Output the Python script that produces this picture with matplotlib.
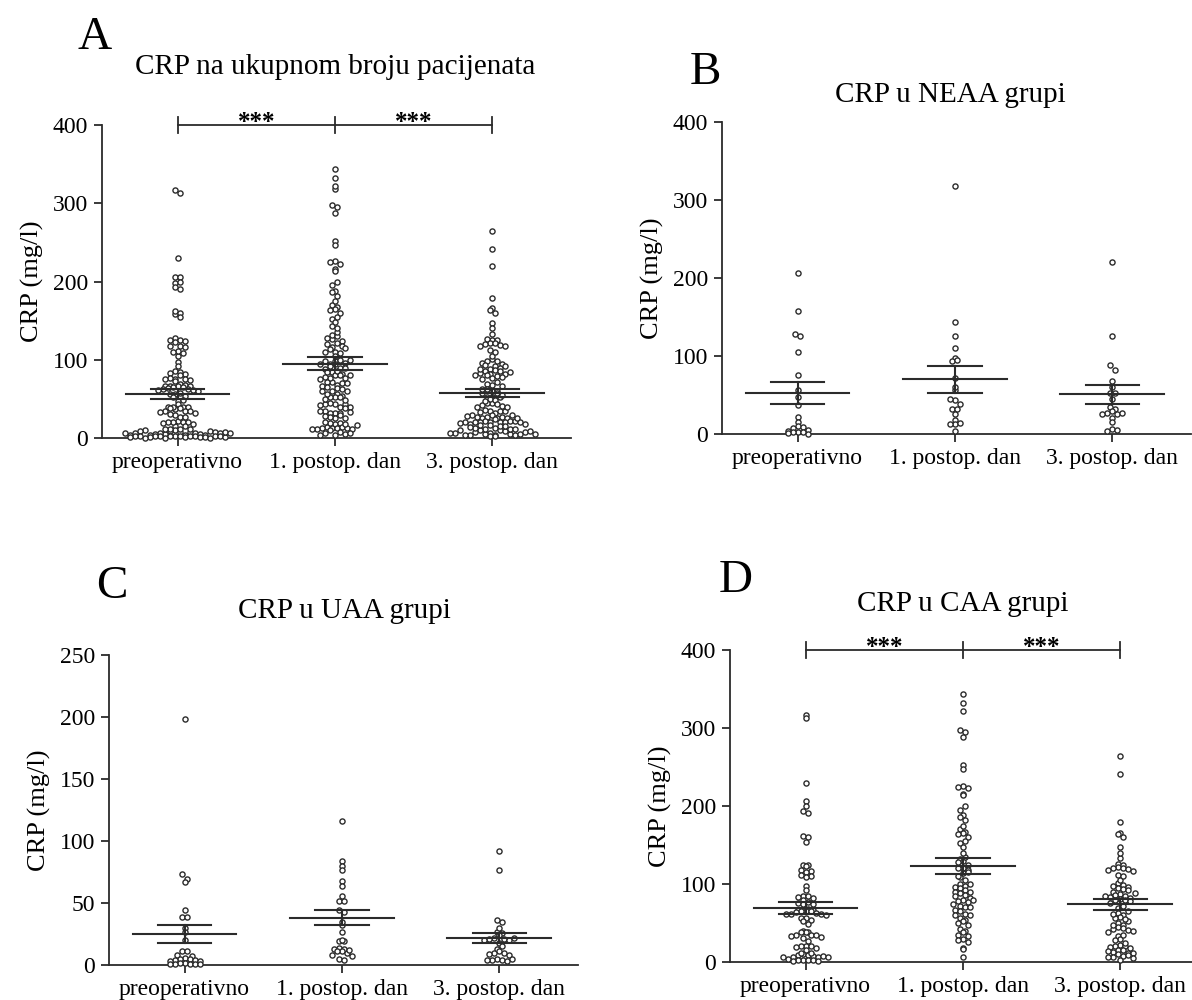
import numpy as np
import matplotlib
matplotlib.use("Agg")
import matplotlib.pyplot as plt

plt.rcParams['font.family'] = ['Liberation Serif', 'DejaVu Serif']

categories = ["preoperativno", "1. postop. dan", "3. postop. dan"]

# NEAA group (panel B)
neaa_pre = [206, 158, 128, 125, 105, 75, 56, 47, 37, 22, 15, 10, 8, 9, 4, 3, 2, 5, 3, 1, 0.5]
neaa_d1 = [318, 143, 126, 98, 94, 95, 72, 56, 44, 45, 39, 32, 32, 18, 13, 13, 14, 4,
           60, 25, 110]
neaa_d3 = [220, 125, 88, 82, 68, 53, 53, 35, 32, 30, 27, 26, 25, 27, 20, 16, 6, 4, 5,
           45, 60]

# UAA group (panel C)
uaa_pre = [198, 73, 69, 67, 44, 39, 39, 30, 27, 20, 11, 11, 8, 7, 6, 5, 5, 4, 4, 3, 3,
           2, 2, 1, 1, 1, 0.5, 0.5]
uaa_d1 = [116, 84, 80, 77, 68, 64, 56, 52, 52, 44, 43, 32, 27, 19, 19, 20, 14, 13, 13,
          11, 11, 10, 12, 8, 7, 5, 4, 35]
uaa_d3 = [92, 77, 36, 35, 27, 26, 24, 22, 21, 21, 20, 20, 22, 18, 13, 11, 10, 10, 9, 8,
          5, 4, 4, 3, 4, 5, 15, 30]

# CAA group (panel D)
caa_pre = [317, 313, 230, 206, 200, 193, 191, 162, 160, 154, 125, 124, 123, 118, 117,
           116, 111, 110, 109, 97, 92, 85, 84, 83, 82, 80, 77, 76, 75, 74, 68, 67, 67,
           66, 65, 65, 64, 63, 62, 61, 61, 60, 57, 56, 54, 52, 49, 40, 39, 38, 38, 35,
           35, 34, 33, 32, 31, 27, 21, 20, 20, 19, 18, 15, 10, 9, 9, 8, 7, 6, 4, 3, 3,
           2, 2, 1, 1, 12, 11, 8, 7, 6]
caa_d1 = [344, 332, 322, 298, 295, 288, 252, 247, 226, 225, 223, 216, 214, 195, 188,
          186, 182, 170, 167, 165, 164, 160, 152, 148, 132, 130, 128, 124, 121, 120,
          118, 114, 109, 100, 98, 96, 95, 92, 90, 88, 86, 84, 82, 80, 78, 77, 75, 72,
          70, 67, 65, 62, 60, 56, 54, 52, 50, 48, 42, 40, 38, 35, 33, 30, 28, 26, 18,
          17, 6, 60, 70, 80, 90, 100, 105, 110, 115, 135, 140, 155, 175, 200]
caa_d3 = [264, 241, 179, 166, 164, 160, 147, 133, 126, 125, 122, 121, 120, 119, 118,
          117, 112, 101, 99, 98, 96, 95, 93, 90, 87, 86, 85, 83, 82, 81, 80, 79, 76,
          69, 63, 60, 58, 57, 50, 48, 45, 43, 42, 41, 39, 33, 30, 28, 22, 21, 20, 19,
          18, 16, 15, 13, 12, 10, 8, 7, 3, 14, 11, 9, 6, 5, 25, 35, 40, 47, 52, 55,
          62, 66, 72, 78, 84, 88, 92, 105, 110, 140]

# all patients (panel A) = the three groups together
total_pre = neaa_pre + uaa_pre + caa_pre
total_d1 = neaa_d1 + uaa_d1 + caa_d1
total_d3 = neaa_d3 + uaa_d3 + caa_d3

# mean +/- SEM as shown
mean_total = [56, 95, 58]
sem_total = [6, 8, 5]
mean_neaa = [53, 70, 51]
sem_neaa = [14, 17, 12]
mean_uaa = [25, 38, 22]
sem_uaa = [7, 6, 4]
mean_caa = [69, 123, 74]
sem_caa = [8, 10, 7]

W, H = 1192, 1000
dark = '#2b2b2b'


def swarm(ax, xc, vals, h=5.5, s=5.0):
    # Prism-like scatter: points grouped into pixel rows, spread side by side
    vals = np.asarray(vals, float)
    disp = ax.transData.transform(np.column_stack([np.full(len(vals), xc), vals]))
    x0 = disp[0, 0]
    y0 = ax.transData.transform((xc, 0))[1]
    ys = disp[:, 1]
    rows = np.round((ys - y0) / h).astype(int)
    px = np.zeros(len(vals))
    for r in np.unique(rows):
        idx = np.where(rows == r)[0]
        n = len(idx)
        offs = (np.arange(n) - (n - 1) / 2) * s
        order = np.argsort(np.abs(offs), kind='stable')
        px[idx] = offs[order]
    inv = ax.transData.inverted()
    return inv.transform(np.column_stack([x0 + px, ys]))[:, 0]


def draw_panel(rect, groups, means, sems, ymax, yticks, stars):
    ax = fig.add_axes(rect)
    ax.set_xlim(-0.48, 2.5)
    ax.set_ylim(0, ymax)
    for s in ['top', 'right']:
        ax.spines[s].set_visible(False)
    for s in ['left', 'bottom']:
        ax.spines[s].set_linewidth(1.3)
        ax.spines[s].set_color(dark)
    ax.set_xticks([0, 1, 2])
    ax.set_xticklabels(categories)
    ax.set_yticks(yticks)
    ax.tick_params(direction='out', length=6, width=1.3, color=dark,
                   labelsize=17, pad=4)
    ax.set_ylabel("CRP (mg/l)", fontsize=19, labelpad=6)

    for i, vals in enumerate(groups):
        xs = swarm(ax, i, vals)
        ax.plot(xs, vals, 'o', ms=3.7, mfc='white', mec=dark, mew=1.0,
                clip_on=False, zorder=3)
        m, s = means[i], sems[i]
        ax.plot([i - 0.33, i + 0.33], [m, m], color=dark, lw=1.5, zorder=4)
        ax.plot([i - 0.17, i + 0.17], [m + s, m + s], color=dark, lw=1.5, zorder=4)
        ax.plot([i - 0.17, i + 0.17], [m - s, m - s], color=dark, lw=1.5, zorder=4)
        ax.plot([i, i], [m - s, m + s], color=dark, lw=1.5, zorder=4)

    if stars:
        tick = ymax * 0.025
        ax.plot([0, 2], [ymax, ymax], color=dark, lw=1.3, clip_on=False)
        for xb in [0, 1, 2]:
            ax.plot([xb, xb], [ymax - tick, ymax + tick], color=dark, lw=1.3,
                    clip_on=False)
        for xs_ in [0.5, 1.5]:
            ax.text(xs_, ymax - ymax * 0.012, "***", ha='center', va='baseline',
                    fontsize=18, fontweight='bold')
    return ax


fig = plt.figure(figsize=(W / 100, H / 100), dpi=100)

draw_panel([102 / W, 1 - 438 / H, 469 / W, 313 / H],
           [total_pre, total_d1, total_d3], mean_total, sem_total,
           400, [0, 100, 200, 300, 400], True)
draw_panel([722 / W, 1 - 434 / H, 469 / W, 312 / H],
           [neaa_pre, neaa_d1, neaa_d3], mean_neaa, sem_neaa,
           400, [0, 100, 200, 300, 400], False)
draw_panel([109 / W, 1 - 965 / H, 469 / W, 310 / H],
           [uaa_pre, uaa_d1, uaa_d3], mean_uaa, sem_uaa,
           250, [0, 50, 100, 150, 200, 250], False)
draw_panel([730 / W, 1 - 962 / H, 469 / W, 312 / H],
           [caa_pre, caa_d1, caa_d3], mean_caa, sem_caa,
           400, [0, 100, 200, 300, 400], True)

letters = [("A", 77, 49), ("B", 690, 84), ("C", 96, 598), ("D", 719, 592)]
for txt, x, y in letters:
    fig.text(x / W, 1 - y / H, txt, fontsize=34, ha='left', va='baseline')

titles = [("CRP na ukupnom broju pacijenata", 335, 74),
          ("CRP u NEAA grupi", 950, 102),
          ("CRP u UAA grupi", 344, 618),
          ("CRP u CAA grupi", 963, 611)]
for txt, x, y in titles:
    fig.text(x / W, 1 - y / H, txt, fontsize=21, ha='center', va='baseline')

fig.savefig("out.png", dpi=100)
